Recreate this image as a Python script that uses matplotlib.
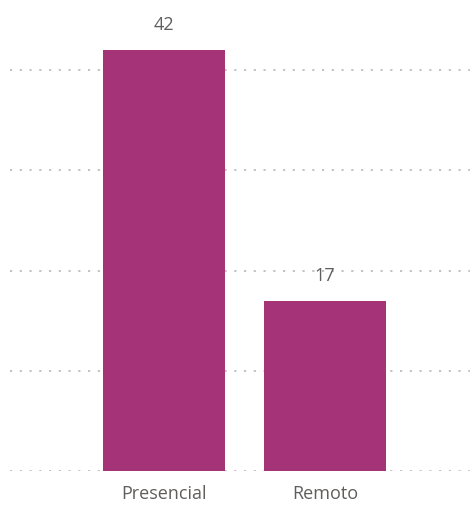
import matplotlib.pyplot as plt

categories = ["Presencial", "Remoto"]
values = [42, 17]
grid_ticks = [0, 10, 20, 30, 40]

bar_color = "#A43378"
text_color = "#605E5C"

fig = plt.figure(figsize=(4.73, 5.14), dpi=100)
ax = fig.add_axes([10 / 473, 43 / 514, 460 / 473, 471 / 514])

x = range(len(categories))
bars = ax.bar(x, values, width=0.757, color=bar_color, zorder=2)

# value labels above bars
for b, v in zip(bars, values):
    ax.text(b.get_x() + b.get_width() / 2, v + 1.6, str(v), ha="center", va="bottom",
            fontsize=13, color=text_color, family="Open Sans")

# dotted gridlines, no visible axes
for t in grid_ticks:
    ax.axhline(t, color="#BDBDBD", linewidth=1.3, linestyle=(0, (1.2, 4.2)), zorder=1)

ax.set_xlim(-0.957, 1.90)
ax.set_ylim(0, 47)
ax.set_xticks(list(x))
ax.set_xticklabels(categories, fontsize=13, color=text_color, family="Open Sans")
ax.tick_params(axis="x", length=0, pad=10)
ax.set_yticks([])
for s in ax.spines.values():
    s.set_visible(False)

fig.savefig("out.png", dpi=100)
